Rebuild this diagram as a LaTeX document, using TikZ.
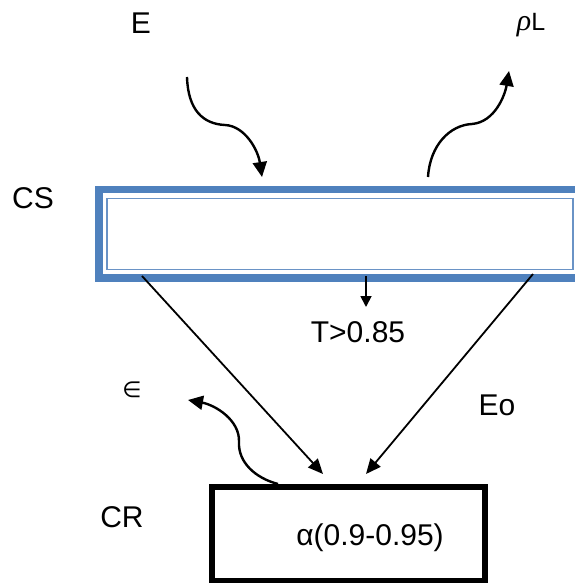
\documentclass[tikz,border=0pt]{standalone}
\usepackage{fontspec}
\setmainfont{Liberation Sans}
\newfontfamily\symfont{DejaVu Sans}
\newfontfamily\greekit{Liberation Serif}
\usetikzlibrary{arrows.meta}
\definecolor{csblue}{HTML}{4F81BD}
\definecolor{cslight}{HTML}{6A93C6}
\tikzset{
  lbl/.style={inner sep=0pt, font=\fontsize{30}{36}\selectfont},
  curvy/.style={line width=2.4pt, -{Triangle[length=15pt,width=14pt]}},
  straight/.style={line width=1.8pt, -{Triangle[length=15pt,width=13pt]}},
  small/.style={line width=1.8pt, -{Triangle[length=11pt,width=11pt]}}
}
\begin{document}
\begin{tikzpicture}[x=1pt,y=-1pt]
\useasboundingbox (0,0) rectangle (574,583);
% CS box
\fill[csblue] (95,186) rectangle (600,282);
\fill[white] (102.5,193) rectangle (575.5,274);
\draw[cslight, line width=1.8pt] (107,198.5) rectangle (573,269.5);
\node[inner sep=0pt, minimum width=478pt, minimum height=96pt] (cs) at (336,234) {};
% CR box
\node[draw, line width=6pt, inner sep=0pt, minimum width=273pt, minimum height=93.5pt] (cr) at (348.5,533.75) {};
% labels
\node[lbl] (E) at (141,23.5) {E};
\node[inner sep=0pt, font=\fontsize{25}{30}\selectfont] (rhoL) at (531,25) {{\greekit\itshape\fontsize{30}{36}\selectfont ρ}L};
\node[lbl] (CS) at (33,198) {CS};
\node[lbl] (CR) at (122,517) {CR};
\node[lbl] (T) at (358,332) {T>0.85};
\node[lbl] (Eo) at (497,405) {Eo};
\node[inner sep=0pt, font=\symfont\fontsize{22}{26}\selectfont] (eps) at (132,390) {∈};
\node[lbl] (alpha) at (370,538) {α(0.9-0.95)};
% coordinates
\coordinate (eS) at (187,77);
\coordinate (eT) at (262,177);
\coordinate (rS) at (428,177);
\coordinate (rT) at (509,71);
\coordinate (lS) at (142,276);
\coordinate (lT) at (323,474);
\coordinate (qS) at (533,274);
\coordinate (qT) at (366,474);
\coordinate (tS) at (366,276);
\coordinate (tT) at (366,307);
\coordinate (xS) at (278,484);
\coordinate (xT) at (188,400);
% connectors
\draw[curvy] (eS) .. controls (188,110) and (203,124) .. (225,125) .. controls (245,126) and (258,150) .. (eT);
\draw[curvy] (rS) .. controls (430,145) and (450,125) .. (472,124) .. controls (495,122) and (505,95) .. (rT);
\draw[curvy] (xS) .. controls (255,478) and (238,462) .. (239,442) .. controls (240,420) and (215,405) .. (xT);
\draw[straight] (lS) -- (lT);
\draw[straight] (qS) -- (qT);
\draw[small] (tS) -- (tT);
\end{tikzpicture}
\end{document}
